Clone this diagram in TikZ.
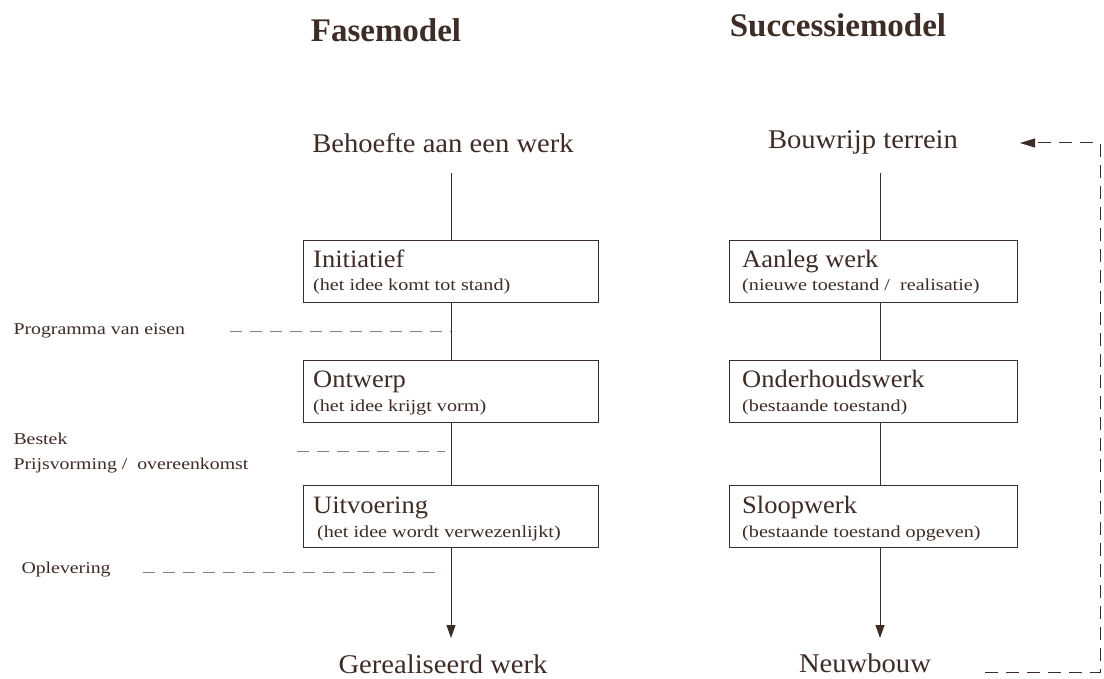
\documentclass[tikz,border=0pt]{standalone}
\usepackage{fontspec}
\setmainfont{Liberation Serif}
\newfontfamily\widefont[FakeStretch=1.2]{Liberation Serif}
\newfontfamily\midfont[FakeStretch=1.06]{Liberation Serif}
\usetikzlibrary{arrows.meta}
\definecolor{ink}{RGB}{62,44,38}
\begin{document}
\begin{tikzpicture}[x=1pt,y=-1pt,
  every node/.style={text=ink},
  title/.style={font=\bfseries\fontsize{33}{36}\selectfont},
  state/.style={font=\midfont\fontsize{27}{30}\selectfont},
  phase/.style={draw=ink, line width=1pt, minimum height=62pt, inner sep=0pt, anchor=north west},
  phasename/.style={font=\midfont\fontsize{25}{28}\selectfont, anchor=base west, inner sep=0pt},
  phasenote/.style={font=\widefont\fontsize{16.8}{20}\selectfont, anchor=base west, inner sep=0pt},
  side/.style={font=\widefont\fontsize{16.5}{25}\selectfont, anchor=west, align=left},
  flow/.style={draw=ink, line width=0.9pt},
  tip/.style={-{Triangle[length=13pt,width=9pt]}},
  guide/.style={draw=ink!60, line width=0.8pt, dash pattern=on 12pt off 8pt},
  loop/.style={draw=ink, line width=1pt, dash pattern=on 13pt off 8pt}]
\useasboundingbox (0,0) rectangle (1104,679);
\fill[white] (0,0) rectangle (1104,679);

% headings
\node[title] (t1) at (386,30) {Fasemodel};
\node[title] (t2) at (838,25) {Successiemodel};

% phase model
\node[state] (b0) at (443,143) {Behoefte aan een werk};
\node[phase, minimum width=295pt] (f1) at (303,240) {};
\node[phase, minimum width=295pt] (f2) at (303,360) {};
\node[phase, minimum width=295pt] (f3) at (303,485) {};
\node[phasename] (f1a) at ([shift={(10,28)}]f1.north west) {Initiatief};
\node[phasenote] (f1b) at ([shift={(10,51)}]f1.north west) {(het idee komt tot stand)};
\node[phasename] (f2a) at ([shift={(10,28)}]f2.north west) {Ontwerp};
\node[phasenote] (f2b) at ([shift={(10,51)}]f2.north west) {(het idee krijgt vorm)};
\node[phasename] (f3a) at ([shift={(10,28)}]f3.north west) {Uitvoering};
\node[phasenote] (f3b) at ([shift={(14,52)}]f3.north west) {(het idee wordt verwezenlijkt)};
\node[state] (e0) at (443,664) {Gerealiseerd werk};

\coordinate (fa) at (451,173);
\draw[flow] (fa) -- (f1.north -| fa);
\draw[flow] (f1.south -| fa) -- (f2.north -| fa);
\draw[flow] (f2.south -| fa) -- (f3.north -| fa);
\coordinate (fz) at (451,638);
\draw[flow,tip] (f3.south -| fa) -- (fz);

% milestones along the phase model
\node[side] (m1) at (10,331) {Programma van eisen};
\node[side] (m2) at (10,453) {Bestek\\Prijsvorming /\ \ overeenkomst};
\node[side] (m3) at (18,570) {Oplevering};
\coordinate (g1) at (230,331);
\coordinate (g2) at (297,451);
\coordinate (g3) at (143,572);
\draw[guide] (g1) -- (g1 -| fa);
\draw[guide] (g2) -- ++(148,0);
\draw[guide] (g3) -- ++(300,0);

% succession model
\node[state] (s0) at (863,142) {Bouwrijp terrein};
\node[phase, minimum width=288pt] (r1) at (729,240) {};
\node[phase, minimum width=288pt] (r2) at (729,360) {};
\node[phase, minimum width=288pt] (r3) at (729,485) {};
\node[phasename] (r1a) at ([shift={(13,28)}]r1.north west) {Aanleg werk};
\node[phasenote] (r1b) at ([shift={(13,51)}]r1.north west) {(nieuwe toestand /\ \ realisatie)};
\node[phasename] (r2a) at ([shift={(13,28)}]r2.north west) {Onderhoudswerk};
\node[phasenote] (r2b) at ([shift={(13,51)}]r2.north west) {(bestaande toestand)};
\node[phasename] (r3a) at ([shift={(13,28)}]r3.north west) {Sloopwerk};
\node[phasenote] (r3b) at ([shift={(13,52)}]r3.north west) {(bestaande toestand opgeven)};
\node[state] (n0) at (865,663) {Neuwbouw};

\coordinate (sa) at (880,173);
\draw[flow] (sa) -- (r1.north -| sa);
\draw[flow] (r1.south -| sa) -- (r2.north -| sa);
\draw[flow] (r2.south -| sa) -- (r3.north -| sa);
\coordinate (sz) at (880,638);
\draw[flow,tip] (r3.south -| sa) -- (sz);

% feedback loop: new build becomes building site again
\coordinate (lb) at (1100,672);
\coordinate (lt) at (1100,143);
\draw[loop,-{Triangle[length=15pt,width=9pt]}] (985,672) -- (lb) -- (lt) -- (1020,143);
\end{tikzpicture}
\end{document}
